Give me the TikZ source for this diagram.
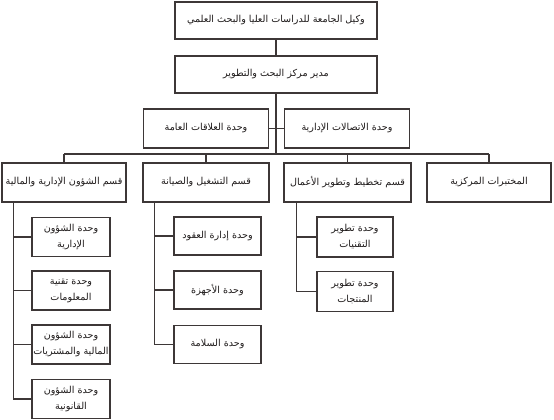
\documentclass[tikz,border=0pt]{standalone}
\usepackage{fontspec}
\newfontfamily\arabicfont[Script=Arabic]{DejaVu Sans}
\TeXXeTstate=1
\definecolor{ln}{HTML}{3D3737}
\definecolor{tx}{HTML}{1E1A1A}
\newcommand{\ar}[1]{\beginR #1\endR}
\begin{document}
\begin{tikzpicture}[x=1pt,y=-1pt,
  orgbox/.style={draw=ln, line width=1.3pt, fill=white, inner sep=0pt, align=center,
    font=\arabicfont\fontsize{9.6}{16}\selectfont, text=tx},
  wide/.style={orgbox, minimum width=202pt, minimum height=37pt},
  mid/.style={orgbox, minimum width=125pt, minimum height=39pt},
  subl/.style={orgbox, minimum width=78pt, minimum height=39pt},
  subm/.style={orgbox, minimum width=87pt, minimum height=38pt},
  subr/.style={orgbox, minimum width=76pt, minimum height=40pt},
  conn/.style={draw=ln, line width=1.3pt}]
\useasboundingbox (0,0) rectangle (554,420);

\node[wide] (top) at (276,20.5) {\ar{وكيل الجامعة للدراسات العليا والبحث العلمي}};
\node[wide] (mgr) at (276,74.5) {\ar{مدير مركز البحث والتطوير}};

\node[mid] (pr) at (206,128.5) {\ar{وحدة العلاقات العامة}};
\node[mid] (ac) at (347,128.5) {\ar{وحدة الاتصالات الإدارية}};

\node[mid, minimum width=124pt] (b1) at (64,182.5) {\ar{قسم الشؤون الإدارية والمالية}};
\node[mid, minimum width=126pt] (b2) at (206,182.5) {\ar{قسم التشغيل والصيانة}};
\node[mid, minimum width=127pt] (b3) at (347.5,182.5) {\ar{قسم تخطيط وتطوير الأعمال}};
\node[mid, minimum width=124pt] (b4) at (489,182.5) {\ar{المختبرات المركزية}};

\node[subl] (l1) at (71,237) {\ar{وحدة الشؤون}\\\ar{الإدارية}};
\node[subl] (l2) at (71,290.5) {\ar{وحدة تقنية}\\\ar{المعلومات}};
\node[subl] (l3) at (71,344.5) {\ar{وحدة الشؤون}\\\ar{المالية والمشتريات}};
\node[subl] (l4) at (71,399) {\ar{وحدة الشؤون}\\\ar{القانونية}};

\node[subm] (m1) at (217.5,236) {\ar{وحدة إدارة العقود}};
\node[subm] (m2) at (217.5,290) {\ar{وحدة الأجهزة}};
\node[subm] (m3) at (217.5,344.5) {\ar{وحدة السلامة}};

\node[subr] (r1) at (355,237) {\ar{وحدة تطوير}\\\ar{التقنيات}};
\node[subr] (r2) at (355,291.5) {\ar{وحدة تطوير}\\\ar{المنتجات}};

\coordinate (busl) at (64,154);
\coordinate (busr) at (489,154);
\coordinate (t1) at ([xshift=12pt]b1.south west);
\coordinate (t2) at ([xshift=12pt]b2.south west);
\coordinate (t3) at ([xshift=13pt]b3.south west);

\draw[conn] (top.south) -- (mgr.north);
\draw[conn] (mgr.south) -- (mgr.south |- busl);
\draw[conn] (pr.east) -- (ac.west);
\draw[conn] (busl) -- (busr);
\draw[conn] (b1.north) -- (b1.north |- busl);
\draw[conn] (b2.north) -- (b2.north |- busl);
\draw[conn] (b3.north) -- (b3.north |- busl);
\draw[conn] (b4.north) -- (b4.north |- busl);

\draw[conn] (t1) |- (l4.west);
\draw[conn] (l1.west) -- (l1.west -| t1);
\draw[conn] (l2.west) -- (l2.west -| t1);
\draw[conn] (l3.west) -- (l3.west -| t1);

\draw[conn] (t2) |- (m3.west);
\draw[conn] (m1.west) -- (m1.west -| t2);
\draw[conn] (m2.west) -- (m2.west -| t2);

\draw[conn] (t3) |- (r2.west);
\draw[conn] (r1.west) -- (r1.west -| t3);
\end{tikzpicture}
\end{document}
